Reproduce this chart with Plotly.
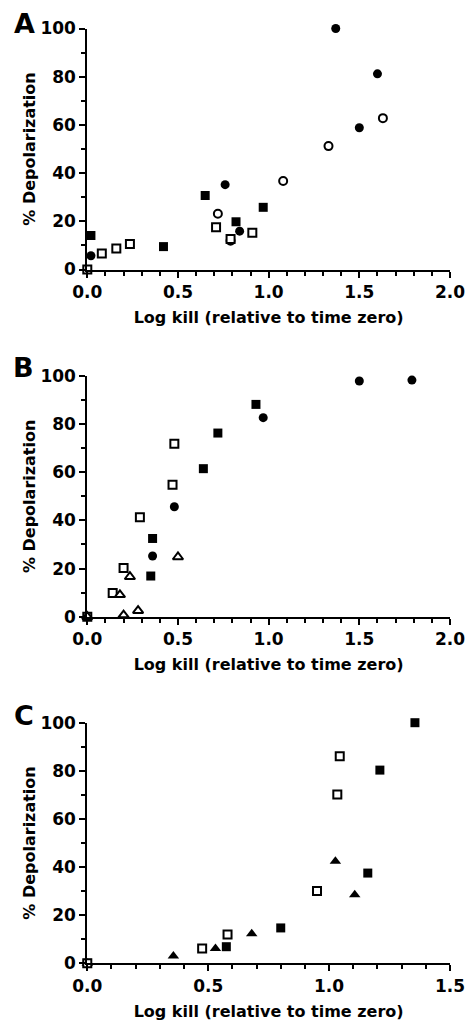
import plotly.graph_objects as go

# ---------------- data ----------------
# Panel A
a_fc_x = [0.02, 0.76, 0.84, 1.37, 1.60, 1.50]
a_fc_y = [5.7, 35.2, 15.9, 100, 81.2, 58.8]
a_fs_x = [0.02, 0.42, 0.65, 0.82, 0.97]
a_fs_y = [14.1, 9.5, 30.7, 19.8, 25.8]
a_oc_x = [0.72, 0.79, 1.08, 1.33, 1.63]
a_oc_y = [23.1, 11.9, 36.7, 51.2, 62.8]
a_os_x = [0.0, 0.08, 0.16, 0.235, 0.71, 0.79, 0.91]
a_os_y = [0, 6.6, 8.7, 10.6, 17.5, 12.7, 15.3]

# Panel B
b_fc_x = [0.36, 0.48, 0.97, 1.50, 1.79]
b_fc_y = [25.2, 45.7, 82.7, 97.9, 98.3]
b_fs_x = [0.35, 0.36, 0.64, 0.72, 0.93]
b_fs_y = [16.9, 32.5, 61.5, 76.3, 88.2]
b_os_x = [0.0, 0.14, 0.20, 0.29, 0.47, 0.48]
b_os_y = [0, 9.8, 20.2, 41.3, 54.8, 71.9]
b_ot_x = [0.0, 0.18, 0.20, 0.235, 0.28, 0.50]
b_ot_y = [0, 9.1, 0.7, 16.6, 2.5, 24.8]

# Panel C
c_fs_x = [0.0, 0.575, 0.80, 1.16, 1.21, 1.355]
c_fs_y = [0, 6.9, 14.7, 37.5, 80.3, 100]
c_ft_x = [0.0, 0.356, 0.53, 0.68, 1.026, 1.106]
c_ft_y = [0, 3.0, 6.1, 12.3, 42.4, 28.5]
c_os_x = [0.0, 0.475, 0.58, 0.95, 1.034, 1.044]
c_os_y = [0, 6.1, 12.0, 30.1, 70.2, 86.1]

panel_labels = ["A", "B", "C"]
x_title = "Log kill (relative to time zero)"
y_title = "% Depolarization"
x_ranges = [[0, 2.0], [0, 2.0], [0, 1.5]]
y_ticks = [0, 20, 40, 60, 80, 100]

# ---------------- figure ----------------
W, H = 467, 1021
FONT = "DejaVu Sans"

def px_x(p):
    return p / W

def px_y(p):
    return 1 - p / H

def mk(x, y, symbol, fill, size, xa, ya, lw=0):
    return go.Scatter(
        x=x, y=y, mode="markers", xaxis=xa, yaxis=ya, cliponaxis=False,
        showlegend=False,
        marker=dict(symbol=symbol, size=size, color=fill,
                    line=dict(color="black", width=lw)),
    )

fig = go.Figure()
# Panel A
fig.add_trace(mk(a_fc_x, a_fc_y, "circle", "black", 9, "x", "y"))
fig.add_trace(mk(a_fs_x, a_fs_y, "square", "black", 9, "x", "y"))
fig.add_trace(mk(a_oc_x, a_oc_y, "circle", "white", 8, "x", "y", 2))
fig.add_trace(mk(a_os_x, a_os_y, "square", "white", 8, "x", "y", 2))
# Panel B
fig.add_trace(mk(b_fc_x, b_fc_y, "circle", "black", 9, "x2", "y2"))
fig.add_trace(mk(b_fs_x, b_fs_y, "square", "black", 9, "x2", "y2"))
fig.add_trace(mk(b_os_x, b_os_y, "square", "white", 8, "x2", "y2", 2))
fig.add_trace(mk(b_ot_x, b_ot_y, "triangle-up", "white", 9, "x2", "y2", 2))
# Panel C
fig.add_trace(mk(c_fs_x, c_fs_y, "square", "black", 9, "x3", "y3"))
fig.add_trace(mk(c_ft_x, c_ft_y, "triangle-up", "black", 10, "x3", "y3"))
fig.add_trace(mk(c_os_x, c_os_y, "square", "white", 8, "x3", "y3", 2))

# pixel geometry of each panel in page pixels (top y of 100, bottom y of 0)
x_px = (87.3, 450.0)
panels_px = [(28.5, 269.5), (376.0, 616.7), (722.7, 963.3)]

tickfont = dict(family=FONT, size=17, color="black", weight="bold")
titlefont = dict(family=FONT, size=16, color="black", weight="bold")

layout = dict(
    width=W, height=H,
    margin=dict(l=0, r=0, t=0, b=0, autoexpand=False),
    paper_bgcolor="white", plot_bgcolor="white",
    font=dict(family=FONT, size=16, color="black", weight="bold"),
)

for i, ((top, bot), xr) in enumerate(zip(panels_px, x_ranges)):
    sfx = "" if i == 0 else str(i + 1)
    ydom = [px_y(bot), px_y(top)]
    xdom = [px_x(x_px[0]), px_x(x_px[1])]
    layout["xaxis" + sfx] = dict(
        domain=xdom, anchor="y" + sfx, range=xr, dtick=0.5, tickformat=".1f",
        showline=True, linecolor="black", linewidth=2, mirror=False,
        ticks="outside", ticklen=6, tickwidth=2, tickcolor="black",
        minor=dict(dtick=0.1, ticks="outside", ticklen=4, tickwidth=2, tickcolor="black"),
        showgrid=False, zeroline=False, tickfont=tickfont, automargin=False,
        title=dict(text=x_title, font=titlefont, standoff=11),
        fixedrange=True,
    )
    layout["yaxis" + sfx] = dict(
        domain=ydom, anchor="x" + sfx, range=[0, 100], tickvals=y_ticks,
        showline=True, linecolor="black", linewidth=2, mirror=False,
        ticks="outside", ticklen=6, tickwidth=2, tickcolor="black",
        minor=dict(dtick=10, ticks="outside", ticklen=4, tickwidth=2, tickcolor="black"),
        showgrid=False, zeroline=False, tickfont=tickfont, automargin=False,
        title=dict(text=y_title, font=titlefont, standoff=1),
        fixedrange=True,
    )

fig.update_layout(**layout)

letter_px = [(24, 23), (23, 368), (24, 715)]
for lab, (lx, ly) in zip(panel_labels, letter_px):
    fig.add_annotation(
        text=lab, xref="paper", yref="paper", x=px_x(lx), y=px_y(ly),
        xanchor="center", yanchor="middle", showarrow=False,
        font=dict(family=FONT, size=27, color="black", weight="bold"),
    )

# remove the default page margin so the figure fills the window exactly
fig.write_html(
    "out.html",
    config={"displayModeBar": False, "staticPlot": True},
    post_script="document.body.style.margin='0';document.body.style.overflow='hidden';",
)
